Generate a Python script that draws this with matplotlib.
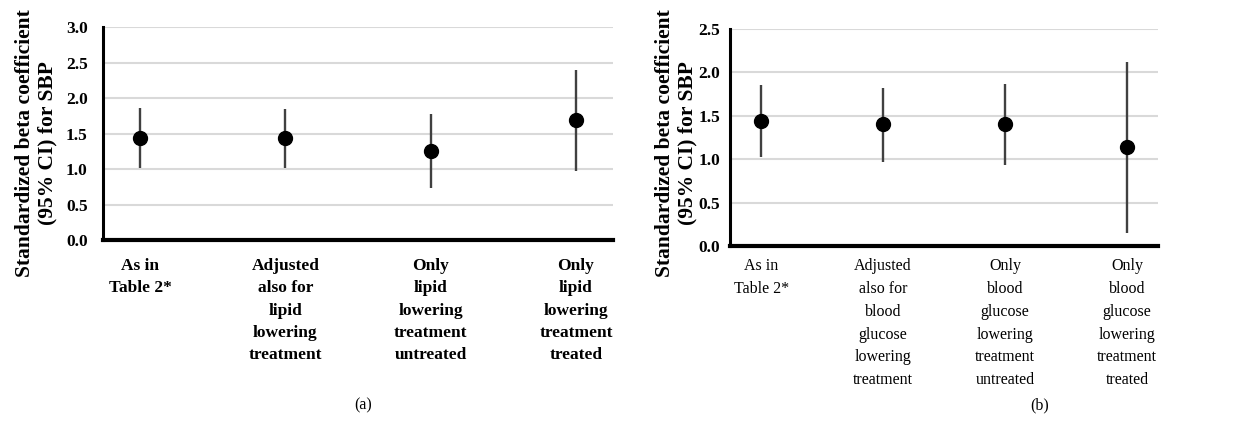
import matplotlib
matplotlib.use("Agg")
import matplotlib.pyplot as plt

# ---------------- data ----------------
labels_a = [
    "As in\nTable 2*",
    "Adjusted\nalso for\nlipid\nlowering\ntreatment",
    "Only\nlipid\nlowering\ntreatment\nuntreated",
    "Only\nlipid\nlowering\ntreatment\ntreated",
]
beta_a = [1.44, 1.43, 1.25, 1.69]
low_a = [1.02, 1.01, 0.73, 0.97]
high_a = [1.86, 1.84, 1.77, 2.40]

labels_b = [
    "As in\nTable 2*",
    "Adjusted\nalso for\nblood\nglucose\nlowering\ntreatment",
    "Only\nblood\nglucose\nlowering\ntreatment\nuntreated",
    "Only\nblood\nglucose\nlowering\ntreatment\ntreated",
]
beta_b = [1.44, 1.40, 1.40, 1.14]
low_b = [1.02, 0.97, 0.93, 0.15]
high_b = [1.86, 1.82, 1.87, 2.12]

yticks_a = [0.0, 0.5, 1.0, 1.5, 2.0, 2.5, 3.0]
yticks_b = [0.0, 0.5, 1.0, 1.5, 2.0, 2.5]
ylabel = "Standardized beta coefficient\n(95% CI) for SBP"

SERIF = ["Liberation Serif", "DejaVu Serif"]
plt.rcParams["font.family"] = SERIF

W, H = 1255, 423
fig = plt.figure(figsize=(W / 100, H / 100), dpi=100)


def px_axes(x0, x1, y_top, y_bot):
    return [x0 / W, 1 - y_bot / H, (x1 - x0) / W, (y_bot - y_top) / H]


def panel(rect, labels, beta, low, high, yticks, xbold, xsize, xls, pad, ypad):
    ax = fig.add_axes(rect)
    x = list(range(1, len(beta) + 1))
    for xi, lo, hi in zip(x, low, high):
        ax.plot([xi, xi], [lo, hi], color="#404040", lw=1.7, solid_capstyle="butt", zorder=3)
    ax.plot(x, beta, "o", color="black", ms=10, zorder=4)
    ax.set_xlim(0.745, len(beta) + 0.255)
    ax.set_ylim(yticks[0], yticks[-1])
    ax.set_yticks(yticks)
    ax.set_yticklabels([f"{t:.1f}" for t in yticks], fontweight="bold", fontsize=12.5)
    ax.set_xticks(x)
    ax.set_xticklabels(labels, fontweight="bold" if xbold else "normal",
                       fontsize=xsize, linespacing=xls, va="top")
    ax.tick_params(axis="both", length=0)
    ax.tick_params(axis="x", pad=pad)
    ax.tick_params(axis="y", pad=ypad)
    ax.grid(axis="y", color="#d9d9d9", lw=1.5, zorder=0)
    ax.set_axisbelow(True)
    for s in ["top", "right"]:
        ax.spines[s].set_visible(False)
    ax.spines["left"].set_linewidth(2.2)
    ax.spines["bottom"].set_linewidth(3.0)
    ax.spines["left"].set_color("black")
    ax.spines["bottom"].set_color("black")
    return ax


panel(px_axes(103, 613, 27, 240), labels_a, beta_a, low_a, high_a, yticks_a,
      True, 12.5, 1.53, 13, 11)
panel(px_axes(730, 1158, 29, 246), labels_b, beta_b, low_b, high_b, yticks_b,
      False, 11.5, 1.56, 9, 7)

fig.text(36 / W, 1 - 143.5 / H, ylabel, rotation=90, ha="center", va="center",
         fontsize=15.5, fontweight="bold", linespacing=1.15)
fig.text(676 / W, 1 - 143.5 / H, ylabel, rotation=90, ha="center", va="center",
         fontsize=15.5, fontweight="bold", linespacing=1.15)

fig.text(363 / W, 1 - 405 / H, "(a)", ha="center", va="center", fontsize=11.5)
fig.text(1040 / W, 1 - 405 / H, "(b)", ha="center", va="center", fontsize=11.5)

fig.savefig("out.png", dpi=100)
